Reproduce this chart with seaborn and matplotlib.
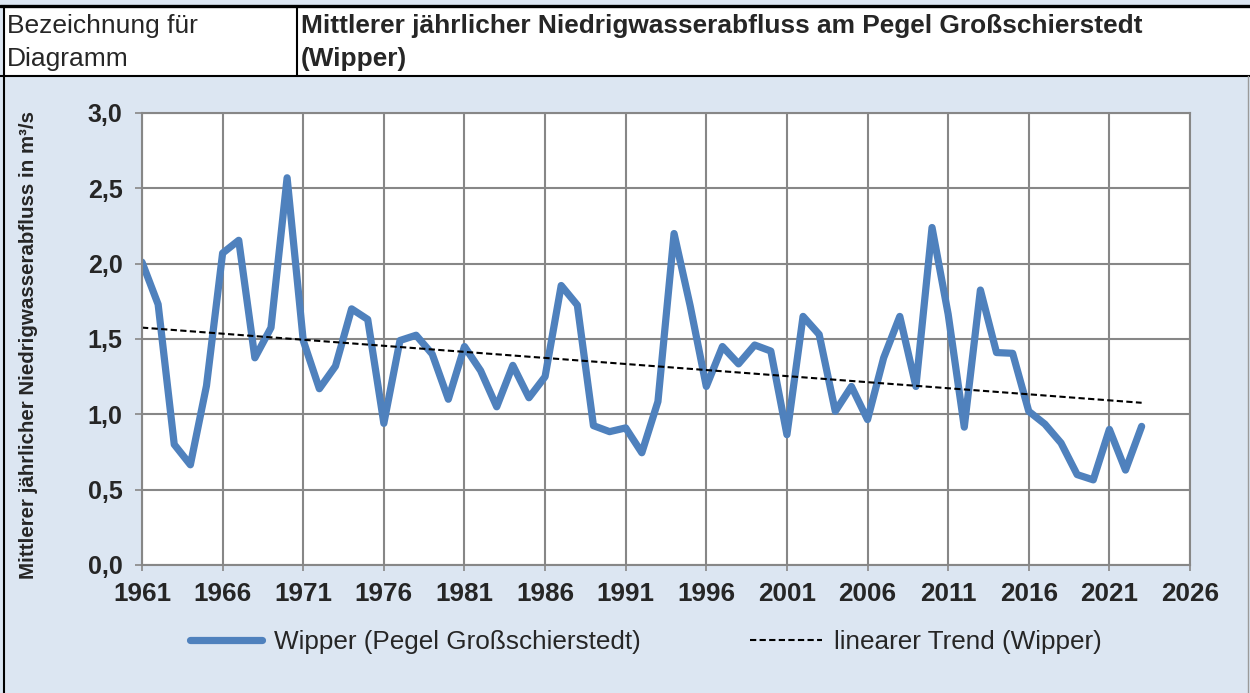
import numpy as np
import pandas as pd
import matplotlib
matplotlib.use("Agg")
import matplotlib.pyplot as plt
from matplotlib.patches import Rectangle
from matplotlib.lines import Line2D
from matplotlib.ticker import MultipleLocator, FuncFormatter
import seaborn as sns

# data
years = list(range(1961, 2024))
mnq = [2.01, 1.73, 0.80, 0.665, 1.19, 2.07, 2.155, 1.375, 1.575, 2.57,
       1.49, 1.17, 1.32, 1.70, 1.63, 0.94, 1.49, 1.525, 1.40, 1.10,
       1.45, 1.29, 1.05, 1.325, 1.11, 1.25, 1.855, 1.725, 0.925, 0.885,
       0.91, 0.745, 1.085, 2.20, 1.72, 1.185, 1.45, 1.335, 1.46, 1.42,
       0.865, 1.65, 1.53, 1.02, 1.185, 0.965, 1.375, 1.65, 1.185, 2.24,
       1.665, 0.915, 1.825, 1.41, 1.405, 1.02, 0.935, 0.81, 0.60, 0.565,
       0.90, 0.63, 0.92]
x_ticks = list(range(1961, 2027, 5))
series_label = "Wipper (Pegel Großschierstedt)"
trend_label = "linearer Trend (Wipper)"
title_lines = ["Mittlerer jährlicher Niedrigwasserabfluss am Pegel Großschierstedt", "(Wipper)"]
left_lines = ["Bezeichnung für", "Diagramm"]
ylabel = "Mittlerer jährlicher Niedrigwasserabfluss in m³/s"

df = pd.DataFrame({"Jahr": years, "MNQ": mnq})
slope, icpt = np.polyfit(df["Jahr"], df["MNQ"], 1)
df["Trend"] = slope * df["Jahr"] + icpt

sns.set_style("white")
plt.rcParams["font.family"] = ["Liberation Sans", "DejaVu Sans"]

W, H = 1250, 693
bg = "#DCE6F2"
blue = "#4F81BD"
grey = "#878787"

fig = plt.figure(figsize=(W / 100, H / 100), dpi=100)
fig.patch.set_facecolor(bg)

def fx(px):
    return px / W

def fy(py):
    return 1 - py / H

# header row like a table
fig.add_artist(Rectangle((fx(4), fy(76)), fx(1250 - 4), fy(6) - fy(76),
                         transform=fig.transFigure, facecolor="white", edgecolor="none"))
fig.add_artist(Line2D([0, 1], [fy(5.5), fy(5.5)], transform=fig.transFigure, color="black", lw=2.4))
fig.add_artist(Line2D([0, 1], [fy(76), fy(76)], transform=fig.transFigure, color="black", lw=1.5))
fig.add_artist(Line2D([fx(297), fx(297)], [fy(5.5), fy(76)], transform=fig.transFigure, color="black", lw=1.5))
fig.add_artist(Line2D([fx(4), fx(4)], [fy(5.5), 0], transform=fig.transFigure, color="black", lw=1.5))
fig.add_artist(Line2D([fx(1248), fx(1248)], [fy(76), 0], transform=fig.transFigure, color="#9a9a9a", lw=1))

fig.text(fx(7), fy(26), left_lines[0], fontsize=19, va="center", ha="left")
fig.text(fx(7), fy(59), left_lines[1], fontsize=19, va="center", ha="left")
fig.text(fx(301), fy(26), title_lines[0], fontsize=18.9, fontweight="bold", va="center", ha="left")
fig.text(fx(301), fy(59), title_lines[1], fontsize=18.9, fontweight="bold", va="center", ha="left")

ax = fig.add_axes([fx(142), fy(565), fx(1190 - 142), fy(113) - fy(565)])
ax.set_facecolor("white")

sns.lineplot(data=df, x="Jahr", y="MNQ", ax=ax, color=blue, lw=5.2,
             label=series_label, legend=False, solid_joinstyle="round",
             solid_capstyle="round")
ax.plot(df["Jahr"], df["Trend"], color="black", lw=1.5, dashes=(3, 1.6), label=trend_label)

ax.set_xlim(1961, 2026)
ax.set_ylim(0, 3.0)
ax.set_xticks(x_ticks)
ax.xaxis.set_minor_locator(MultipleLocator(1))
ax.yaxis.set_major_locator(MultipleLocator(0.5))
ax.yaxis.set_major_formatter(FuncFormatter(lambda v, p: f"{v:.1f}".replace(".", ",")))
ax.grid(True, which="major", color=grey, lw=1.5)
for s in ax.spines.values():
    s.set_color(grey)
    s.set_linewidth(1.5)
ax.tick_params(axis="x", which="major", direction="out", length=4, width=1.2, color=grey,
               labelsize=18.8, pad=8)
ax.tick_params(axis="x", which="minor", direction="out", length=4, width=1.2, color=grey)
ax.tick_params(axis="y", which="major", direction="out", length=5, width=1.2, color=grey,
               labelsize=18, pad=9)
ax.tick_params(left=True, bottom=True)
for t in ax.get_xticklabels() + ax.get_yticklabels():
    t.set_fontweight("bold")

ax.set_xlabel("")
ax.set_ylabel(ylabel, fontsize=14.8, fontweight="bold")
ax.yaxis.set_label_coords(-0.099, 0.487)

handles, labels = ax.get_legend_handles_labels()
fig.legend(handles, labels, loc="center", bbox_to_anchor=(fx(646), fy(642)), ncol=2,
           frameon=False, fontsize=18.8, handlelength=2.75, handletextpad=0.45,
           columnspacing=4.2)

fig.savefig("out.png", dpi=100, facecolor=bg)
